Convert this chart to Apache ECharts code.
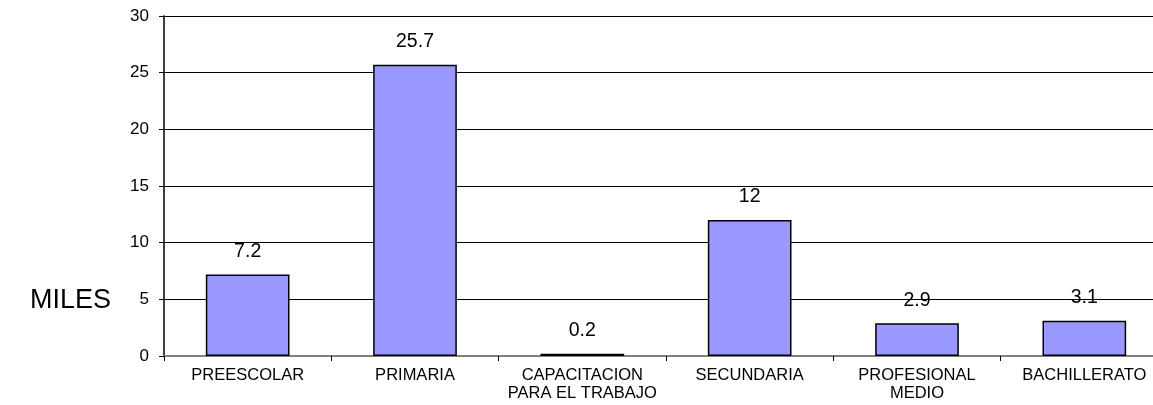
<!DOCTYPE html>
<html><head><meta charset="utf-8">
<script src="https://cdn.jsdelivr.net/npm/echarts@6/dist/echarts.min.js"></script>
<style>html,body{margin:0;padding:0;background:#fff;overflow:hidden}#c{width:1168px;height:405px}</style>
</head><body><div id="c"></div>
<script>
const categories = ['PREESCOLAR','PRIMARIA','CAPACITACION\nPARA EL TRABAJO','SECUNDARIA','PROFESIONAL\nMEDIO','BACHILLERATO'];
const values = [7.2, 25.7, 0.2, 12, 2.9, 3.1];
const yTicks = [0, 5, 10, 15, 20, 25, 30];
const axisTitle = 'MILES';

const FONT = 'Liberation Sans, Arial, sans-serif';
const chart = echarts.init(document.getElementById('c'));
chart.setOption({
  animation: false,
  backgroundColor: '#fff',
  textStyle: {fontFamily: FONT},
  grid: {left: 164, right: 0, top: 16, bottom: 49, containLabel: false},
  graphic: [{type: 'text', right: 1168 - 111, top: 287, style: {text: axisTitle, fontSize: 27, fill: '#000', fontFamily: FONT}}],
  xAxis: {
    type: 'category', data: categories,
    axisLine: {lineStyle: {color: '#808080', width: 2}},
    axisTick: {show: true, length: 5, lineStyle: {color: '#000'}},
    axisLabel: {color: '#000', fontSize: 16.5, margin: 10, lineHeight: 18, interval: 0}
  },
  yAxis: {
    type: 'value', min: 0, max: 30, interval: 5,
    axisLine: {show: true, lineStyle: {color: '#404040', width: 2}},
    axisTick: {show: true, length: 5, inside: false, lineStyle: {color: '#000'}},
    axisLabel: {color: '#000', fontSize: 17, margin: 15, formatter: v => yTicks.includes(v) ? String(v) : ''},
    splitLine: {lineStyle: {color: '#000', width: 1}}
  },
  series: [{
    type: 'bar', data: values, barWidth: '50%',
    itemStyle: {color: '#9999FF', borderColor: '#000', borderWidth: 1.5},
    label: {show: true, position: 'top', distance: 13, color: '#000', fontSize: 19.5}
  }]
});
</script></body></html>
